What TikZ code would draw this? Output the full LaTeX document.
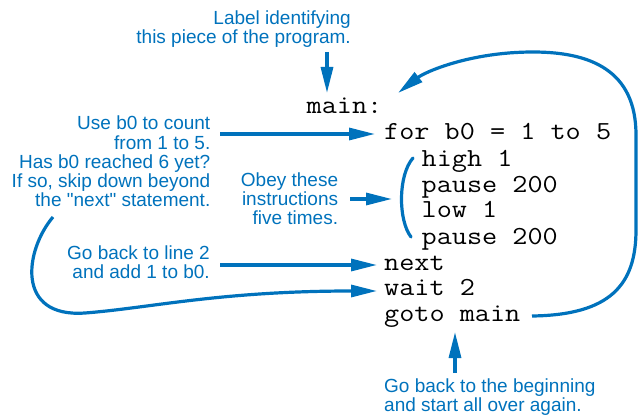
\documentclass[tikz,border=0pt]{standalone}
\usepackage{fontspec}
\setmainfont{Liberation Sans}[Ligatures=TeXOff]
\newfontfamily\codefont{Latin Modern Mono}[FakeStretch=1.13]
\usetikzlibrary{arrows.meta}
\definecolor{lblue}{RGB}{0,114,188}
\begin{document}
\begin{tikzpicture}[x=1pt,y=-1pt,
  lbl/.style={text=lblue, font=\fontsize{19}{19.2}\selectfont, inner sep=0pt},
  code/.style={font=\codefont\fontsize{26}{26}\selectfont, inner sep=0pt, anchor=base west,
               text height=17pt, text depth=6pt},
  arr/.style={draw=lblue, line width=3.2pt, -{Triangle[length=26pt,width=12pt]}},
  crv/.style={draw=lblue, line width=3.2pt, line cap=round}]
\useasboundingbox (0,0) rectangle (638,417);

% code
\node[code] (main)  at (306.5,114) {main:};
\node[code] (for)   at (384,140) {for b0 = 1 to 5};
\node[code] (high)  at (421.5,166.5) {high 1};
\node[code] (p1)    at (421.5,192.5) {pause 200};
\node[code] (low)   at (421.5,218) {low 1};
\node[code] (p2)    at (421.5,244) {pause 200};
\node[code] (next)  at (384,270) {next};
\node[code] (wait)  at (384,295.5) {wait 2};
\node[code] (goto)  at (384,321) {goto main};

% labels (base anchor = baseline of last line)
\node[lbl, align=right, anchor=base east] (ltop) at (351,43.3) {Label identifying\\this piece of the program.};
\node[lbl, align=right, anchor=base east] (luse) at (210.5,206.7) {Use b0 to count\\from 1 to 5.\\Has b0 reached 6 yet?\\If so, skip down beyond\\the "next" statement.};
\node[lbl, align=right, anchor=base east] (lobey) at (338.3,225) {Obey these\\instructions\\five times.};
\node[lbl, align=right, anchor=base east] (lback) at (210,278.3) {Go back to line 2\\and add 1 to b0.};
\node[lbl, align=left, anchor=base west] (lbeg) at (384,411.7) {Go back to the beginning\\and start all over again.};

% connector end points
\coordinate (a1s) at (327,52);  \coordinate (a1e) at (327,93);
\coordinate (a2s) at (220,134); \coordinate (a2e) at (375,134);
\coordinate (a3s) at (350,199); \coordinate (a3e) at (392,199);
\coordinate (a4s) at (220,265); \coordinate (a4e) at (377,265);
\coordinate (a5s) at (53,217);  \coordinate (a5e) at (377,291);
\coordinate (a6s) at (455,373); \coordinate (a6e) at (455,332);
\coordinate (b1) at (413,158);  \coordinate (b2) at (411,237);
\coordinate (ls) at (532,316);  \coordinate (le) at (398,93);

\draw[arr] (a1s) -- (a1e);
\draw[arr] (a2s) -- (a2e);
\draw[arr] (a3s) -- (a3e);
\draw[arr] (a4s) -- (a4e);
\draw[arr] (a6s) -- (a6e);
\draw[arr] (a5s) .. controls (25,250) and (15,318) .. (85,313)
               .. controls (150,308) and (220,291) .. (a5e);
\draw[crv] (b1) .. controls (398,175) and (398,220) .. (b2);
\draw[arr] (ls) .. controls (610,315) and (636,285) .. (636,230)
          -- (636,135)
          .. controls (636,70) and (590,52) .. (533,52)
          .. controls (470,52) and (425,72) .. (le);
\end{tikzpicture}
\end{document}
